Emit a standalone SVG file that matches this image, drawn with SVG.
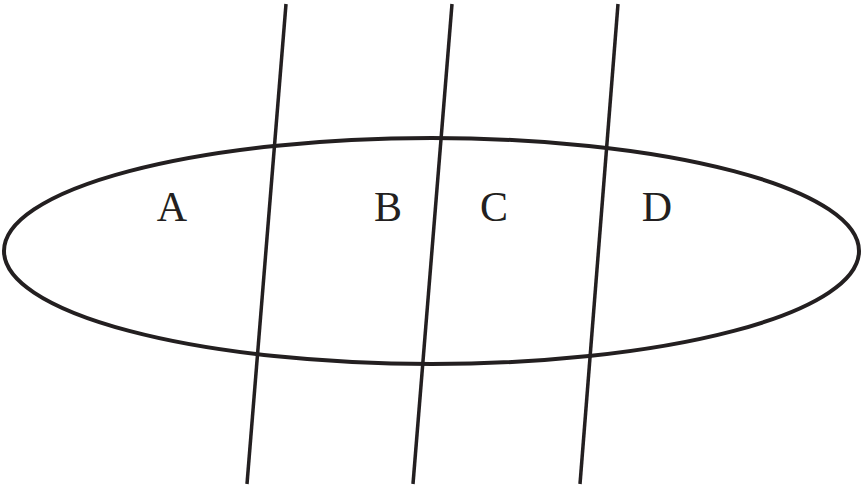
<svg xmlns="http://www.w3.org/2000/svg" width="863" height="488" viewBox="0 0 863 488">
<style>
.shape{fill:none;stroke:#231f20;stroke-width:4}
.ln{stroke:#231f20;stroke-width:3.5;stroke-linecap:butt}
.lbl{font-family:"Liberation Serif","Times New Roman",serif;font-size:42px;fill:#231f20;text-anchor:middle}
</style>
<rect width="863" height="488" fill="#ffffff"/>
<g id="set">
<ellipse class="shape" cx="431.5" cy="251" rx="427.5" ry="113"/>
</g>
<g id="connectors">
<line class="ln" x1="286" y1="4" x2="247" y2="484"/>
<line class="ln" x1="452" y1="4" x2="413" y2="484"/>
<line class="ln" x1="618" y1="4" x2="580" y2="484"/>
</g>
<g id="labelA"><text class="lbl" x="172" y="221">A</text></g>
<g id="labelB"><text class="lbl" x="388" y="221">B</text></g>
<g id="labelC"><text class="lbl" x="494" y="221">C</text></g>
<g id="labelD"><text class="lbl" x="657" y="221">D</text></g>
</svg>
